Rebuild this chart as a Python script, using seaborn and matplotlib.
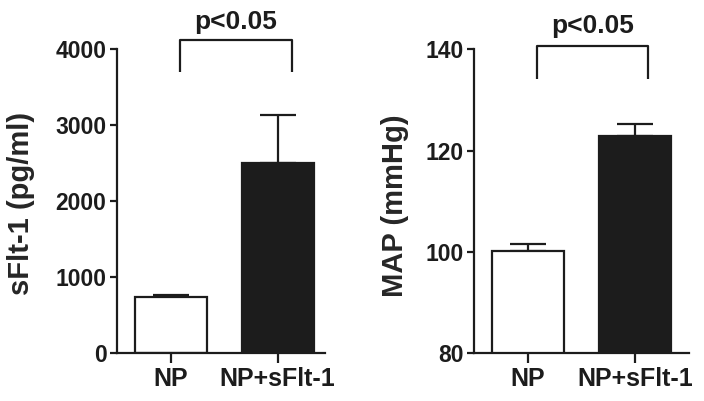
import numpy as np
import matplotlib
matplotlib.use("Agg")
import matplotlib.pyplot as plt
import seaborn as sns

# data (mean and upper SEM)
groups = ["NP", "NP+sFlt-1"]
sflt_mean = [735, 2500]
sflt_err = [35, 640]
map_mean = [100.2, 122.8]
map_err = [1.4, 2.5]
bar_colors = ["white", "#1c1c1c"]
sig_text = "p<0.05"

INK = "#1c1c1c"

sns.set_style("ticks")
plt.rcParams["font.family"] = ["Liberation Sans", "DejaVu Sans"]
plt.rcParams["font.weight"] = "bold"
plt.rcParams["axes.labelweight"] = "bold"
plt.rcParams["axes.edgecolor"] = INK
plt.rcParams["axes.linewidth"] = 1.6
plt.rcParams["text.color"] = INK
plt.rcParams["xtick.color"] = INK
plt.rcParams["ytick.color"] = INK

fig = plt.figure(figsize=(7.04, 4.01), dpi=100)
ax1 = fig.add_axes([0.1662, 0.1190, 0.2954, 0.7585])
ax2 = fig.add_axes([0.6729, 0.1190, 0.3054, 0.7585])


def draw_panel(ax, means, errs, ylim, yticks, ylabel, xlim, width,
               bracket, label_xy):
    sns.barplot(x=groups, y=means, hue=groups, palette=bar_colors,
                edgecolor=INK, linewidth=1.6, width=width, legend=False,
                ax=ax, zorder=2)
    ax.errorbar(x=[0, 1], y=means, yerr=[[0, 0], errs], fmt="none",
                ecolor=INK, elinewidth=1.6, capsize=13, capthick=1.6,
                zorder=1)
    ax.set_ylim(*ylim)
    ax.set_xlim(*xlim)
    ax.set_yticks(yticks)
    ax.set_ylabel(ylabel, fontsize=21, fontweight="bold")
    ax.yaxis.set_label_coords(*label_xy)
    ax.set_xlabel("")
    sns.despine(ax=ax)
    ax.tick_params(axis="y", direction="out", length=5, width=1.6,
                   pad=2.5, labelsize=16.5)
    ax.tick_params(axis="x", direction="out", length=7, width=1.6,
                   pad=3, labelsize=18)
    for t in ax.get_yticklabels() + ax.get_xticklabels():
        t.set_fontweight("bold")

    # significance bracket
    x0, x1, y_low, y_top, y_txt = bracket
    ax.plot([x0, x0, x1, x1], [y_low, y_top, y_top, y_low], color=INK,
            lw=1.6, clip_on=False, solid_capstyle="butt")
    ax.text((x0 + x1) / 2, y_txt, sig_text, ha="center", va="baseline",
            fontsize=19, fontweight="bold", clip_on=False)


draw_panel(ax1, sflt_mean, sflt_err, (0, 4000), [0, 1000, 2000, 3000, 4000],
           "sFlt-1 (pg/ml)", (-0.506, 1.443), 0.675,
           (0.085, 1.135, 3705, 4125, 4265), (-0.394, 0.494))
draw_panel(ax2, map_mean, map_err, (80, 140), [80, 100, 120, 140],
           "MAP (mmHg)", (-0.503, 1.50), 0.67,
           (0.087, 1.12, 134.1, 140.6, 143.2), (-0.302, 0.484))

fig.savefig("out.png", dpi=100)
